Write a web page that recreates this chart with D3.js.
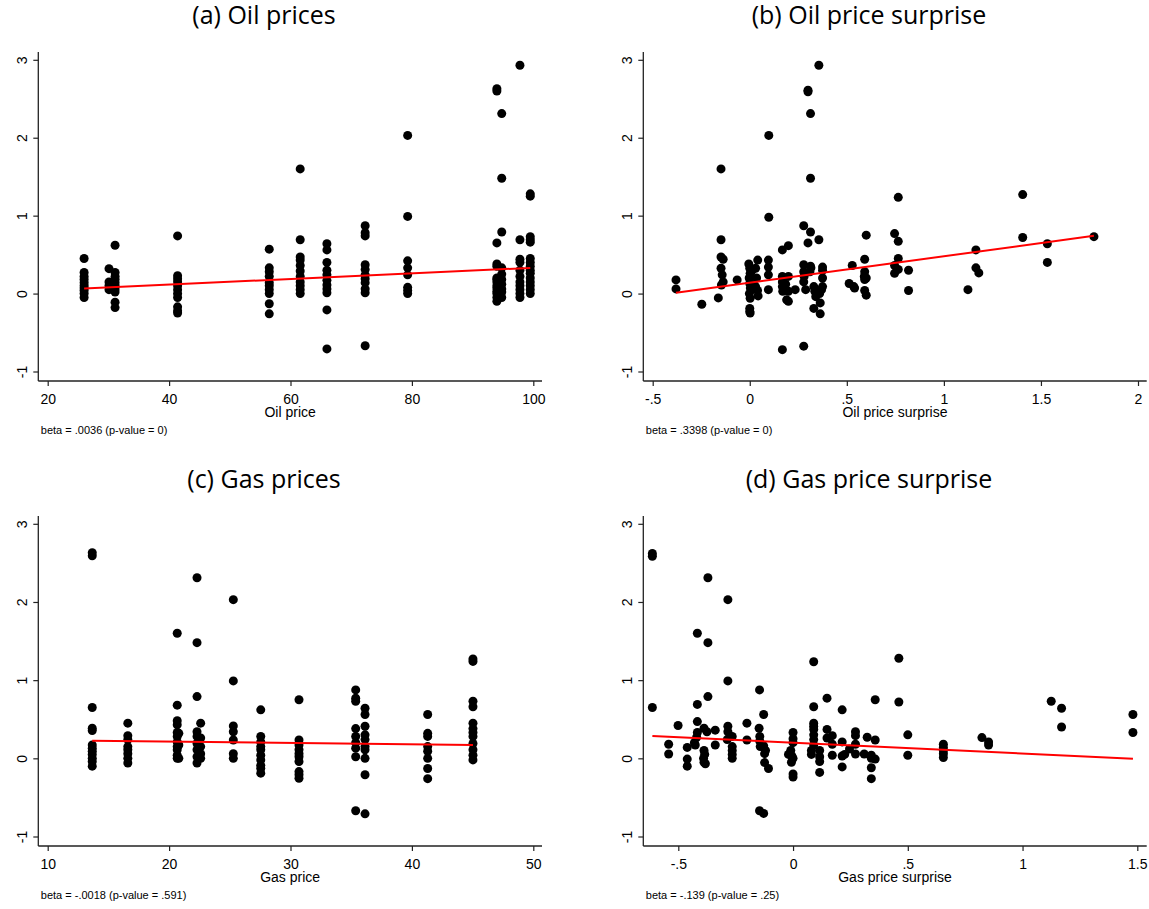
<!DOCTYPE html>
<html>
<head>
<meta charset="utf-8">
<script src="https://cdn.jsdelivr.net/npm/d3@7"></script>
<style>
  body { margin: 0; background: #fff; }
  svg { display: block; }
  .ptitle { font-family: "Open Sans", sans-serif; font-size: 25px; fill: #000; }
  .tick text, .ylab { font-family: "Liberation Sans", Arial, sans-serif; font-size: 14px; fill: #000; }
  .xtitle { font-family: "Liberation Sans", Arial, sans-serif; font-size: 14px; fill: #000; }
  .note { font-family: "Liberation Sans", Arial, sans-serif; font-size: 11px; fill: #000; }
</style>
</head>
<body>
<svg id="canvas" width="1149" height="909"></svg>
<script>
// ---- data ----

// (a) oil price levels, each with the returns observed at that price
var oilPriceLevels = [26, 30.1, 31.1, 41.4, 56.5, 61.6, 66.0, 72.3, 79.3, 94.0, 94.8, 97.8, 99.5];
var oilPriceReturns = [
  [0.45, 0.27, 0.22, 0.18, 0.14, 0.10, 0.07, 0.04, 0.00, -0.05],
  [0.32, 0.15, 0.10, 0.05],
  [0.62, 0.27, 0.22, 0.18, 0.14, 0.10, 0.06, 0.02, -0.11, -0.18],
  [0.74, 0.23, 0.19, 0.15, 0.10, 0.05, 0.00, -0.05, -0.17, -0.22, -0.25],
  [0.57, 0.33, 0.28, 0.22, 0.14, 0.10, 0.05, 0.00, -0.13, -0.26],
  [1.60, 0.69, 0.47, 0.43, 0.36, 0.29, 0.22, 0.15, 0.10, 0.05, 0.00],
  [0.64, 0.56, 0.40, 0.30, 0.24, 0.17, 0.11, 0.06, 0.01, -0.21, -0.71],
  [0.87, 0.78, 0.74, 0.37, 0.31, 0.24, 0.19, 0.14, 0.06, 0.01, -0.67],
  [2.03, 0.99, 0.42, 0.33, 0.24, 0.08, 0.04, 0.00],
  [2.63, 2.60, 0.65, 0.38, 0.35, 0.20, 0.18, 0.15, 0.10, 0.07, 0.03, 0.00, -0.05, -0.10],
  [2.31, 1.48, 0.79, 0.33, 0.25, 0.18, 0.12, 0.06, 0.02, -0.05],
  [2.93, 0.69, 0.44, 0.40, 0.30, 0.22, 0.15, 0.10, 0.05, 0.00, -0.05],
  [1.28, 1.25, 0.73, 0.69, 0.66, 0.45, 0.40, 0.35, 0.30, 0.26, 0.20, 0.15, 0.10, 0.05, 0.00]
];

// (b) oil price surprise vs return
var oilSurprisePoints = [
  [-0.38, 0.175], [-0.38, 0.06], [-0.247, -0.137], [-0.162, -0.056], [-0.148, 1.60], [-0.148, 0.69],
  [-0.148, 0.47], [-0.137, 0.44], [-0.148, 0.325], [-0.142, 0.24], [-0.137, 0.15], [-0.146, 0.11], [-0.065, 0.175],
  [-0.005, 0.38], [0, 0.325], [0.002, 0.26], [-0.003, 0.2], [0, 0.13], [0.003, 0.07], [-0.002, 0.0],
  [0.002, -0.06], [0, -0.19], [0, -0.23], [0.002, -0.25], [0.012, 0.3], [0.015, 0.1], [0.01, 0.05],
  [0.03, 0.325], [0.041, 0.43], [0.035, 0.2], [0.03, 0.09], [0.043, -0.03], [0.04, 0.04],
  [0.096, 0.43], [0.096, 0.34], [0.096, 0.24], [0.096, 0.05], [0.098, 2.03], [0.098, 0.98],
  [0.168, 0.56], [0.168, -0.72], [0.168, 0.22], [0.168, 0.15], [0.168, 0.09], [0.17, 0.03],
  [0.199, 0.615], [0.199, 0.22], [0.199, -0.1], [0.199, 0.03], [0.19, -0.08], [0.185, 0.12], [0.234, 0.05],
  [0.278, 0.87], [0.278, 0.37], [0.278, 0.28], [0.278, 0.15], [0.278, -0.675], [0.28, 0.22],
  [0.3, 2.61], [0.3, 2.59], [0.3, 0.65], [0.313, 2.31], [0.313, 1.48], [0.313, 0.79], [0.313, 0.35],
  [0.31, 0.28], [0.288, 0.05], [0.315, 0.33], [0.356, 2.93], [0.356, 0.69],
  [0.33, 0.09], [0.335, 0.03], [0.34, -0.04], [0.363, -0.12], [0.33, -0.19], [0.363, -0.26],
  [0.375, 0.34], [0.375, 0.3], [0.375, 0.2], [0.375, 0.09], [0.37, 0.05], [0.36, 0.0], [0.35, 0.02],
  [0.512, 0.13], [0.528, 0.36], [0.54, 0.07], [0.536, 0.09],
  [0.592, 0.44], [0.592, 0.28], [0.59, 0.22], [0.592, 0.18], [0.592, 0.04], [0.6, -0.02], [0.6, 0.75], [0.6, 0.2],
  [0.746, 0.77], [0.765, 1.235], [0.765, 0.67], [0.765, 0.45], [0.746, 0.36], [0.765, 0.31], [0.746, 0.26],
  [0.818, 0.30], [0.818, 0.04], [1.124, 0.05], [1.165, 0.56], [1.165, 0.33], [1.18, 0.265],
  [1.406, 1.27], [1.406, 0.72], [1.533, 0.64], [1.533, 0.40], [1.773, 0.73]
];

// (c) gas price levels, each with the returns observed at that price
var gasPriceLevels = [13.67, 16.6, 20.67, 20.8, 22.3, 22.6, 25.29, 27.55, 30.7, 35.37, 36.14, 41.3, 45.03];
var gasPriceReturns = [
  [2.63, 2.59, 0.65, 0.385, 0.355, 0.17, 0.13, 0.09, 0.05, 0.0, -0.04, -0.1],
  [0.45, 0.29, 0.24, 0.15, 0.11, 0.06, 0.0, -0.06],
  [1.6, 0.68, 0.48, 0.43, 0.33, 0.28, 0.21, 0.15, 0.11, 0.04, 0.0],
  [0.32, 0.17, 0.0],
  [2.31, 1.48, 0.79, 0.34, 0.28, 0.19, 0.11, 0.02, -0.06],
  [0.45, 0.26, 0.15, 0.06, 0.0],
  [2.03, 0.99, 0.415, 0.34, 0.235, 0.06, 0.0],
  [0.62, 0.28, 0.21, 0.15, 0.11, 0.04, -0.02, -0.09, -0.13, -0.19],
  [0.75, 0.235, 0.17, 0.11, 0.06, 0.02, -0.04, -0.17, -0.21, -0.255],
  [0.875, 0.77, 0.73, 0.38, 0.28, 0.2, 0.13, 0.02, -0.67],
  [0.64, 0.56, 0.41, 0.3, 0.24, 0.15, 0.11, 0.0, -0.21, -0.71],
  [0.56, 0.32, 0.28, 0.15, 0.09, 0.0, -0.13, -0.26],
  [1.27, 1.24, 0.73, 0.66, 0.45, 0.38, 0.33, 0.28, 0.19, 0.11, 0.04, -0.02]
];

// (d) gas price surprise vs return
var gasSurprisePoints = [
  [-0.613, 2.62], [-0.613, 2.585], [-0.613, 0.65], [-0.542, 0.18], [-0.542, 0.055], [-0.501, 0.42],
  [-0.461, 0.14], [-0.461, -0.01], [-0.461, -0.1],
  [-0.417, 1.60], [-0.417, 0.69], [-0.417, 0.47], [-0.417, 0.33], [-0.42, 0.27], [-0.426, 0.17], [-0.43, 0.2],
  [-0.371, 2.31], [-0.371, 1.48], [-0.371, 0.79],
  [-0.388, 0.385], [-0.375, 0.34], [-0.388, 0.1], [-0.385, 0.05], [-0.39, 0.0], [-0.388, -0.05], [-0.382, -0.07],
  [-0.339, 0.36], [-0.339, 0.17],
  [-0.284, 2.03], [-0.284, 0.99], [-0.284, 0.41], [-0.284, 0.34], [-0.287, 0.24],
  [-0.265, 0.28], [-0.265, 0.15], [-0.265, 0.1], [-0.265, 0.05], [-0.265, 0.0],
  [-0.201, 0.45], [-0.201, 0.235],
  [-0.146, 0.875], [-0.148, 0.385], [-0.145, 0.28], [-0.145, 0.22], [-0.143, 0.15],
  [-0.128, 0.56], [-0.128, 0.16], [-0.124, 0.06], [-0.124, -0.055], [-0.107, -0.13], [-0.12, 0.1],
  [-0.146, -0.67], [-0.128, -0.705],
  [0, 0.33], [0, 0.25], [0, 0.2], [-0.01, 0.1], [-0.02, 0.05], [0, 0.0], [-0.007, -0.05], [0, -0.2], [0, -0.24], [-0.005, 0.03],
  [0.09, 1.235], [0.09, 0.66], [0.09, 0.45], [0.09, 0.41], [0.09, 0.37], [0.09, 0.3], [0.09, 0.24], [0.09, 0.17], [0.08, 0.1], [0.08, 0.05],
  [0.116, 0.1], [0.116, 0.02], [0.116, -0.04], [0.116, -0.18],
  [0.148, 0.77], [0.148, 0.37], [0.148, 0.26], [0.171, 0.29], [0.171, 0.18], [0.171, 0.04],
  [0.214, 0.62], [0.214, 0.21], [0.214, 0.03], [0.214, -0.11], [0.225, 0.05], [0.246, 0.12],
  [0.272, 0.34], [0.272, 0.29], [0.272, 0.18], [0.272, 0.055], [0.31, 0.055], [0.323, 0.27],
  [0.341, 0.04], [0.341, 0.0], [0.341, -0.12], [0.341, -0.26], [0.358, 0.75], [0.358, 0.235], [0.358, -0.01],
  [0.461, 1.28], [0.461, 0.72], [0.5, 0.30], [0.5, 0.04],
  [0.655, 0.18], [0.655, 0.14], [0.655, 0.1], [0.655, 0.06], [0.655, 0.01],
  [0.823, 0.265], [0.852, 0.21], [0.852, 0.17],
  [1.125, 0.73], [1.17, 0.64], [1.17, 0.40], [1.481, 0.56], [1.481, 0.33]
];

// fitted lines: [intercept, beta]
var fitOilPrice = [-0.029, 0.0036];
var fitOilSurprise = [0.139, 0.3398];
var fitGasPrice = [0.25, -0.0018];
var fitGasSurprise = [0.2, -0.139];

// tick labels
var yTicks = [-1, 0, 1, 2, 3];
var oilPriceTicks = [20, 40, 60, 80, 100];
var oilSurpriseTicks = [-0.5, 0, 0.5, 1, 1.5, 2];
var gasPriceTicks = [10, 20, 30, 40, 50];
var gasSurpriseTicks = [-0.5, 0, 0.5, 1, 1.5];

function flatten(levels, returns) {
  var out = [];
  levels.forEach(function(x, i) {
    returns[i].forEach(function(y) { out.push([x, y]); });
  });
  return out;
}

// stata style numbers: .5, -.5
function stataFmt(v) {
  var s = String(v);
  return s.replace(/^0\./, ".").replace(/^-0\./, "-.");
}

var panels = [
  {title: "(a) Oil prices", xTitle: "Oil price", note: "beta = .0036 (p-value = 0)",
   points: flatten(oilPriceLevels, oilPriceReturns), fit: fitOilPrice, ticks: oilPriceTicks,
   col: 0, row: 0},
  {title: "(b) Oil price surprise", xTitle: "Oil price surprise", note: "beta = .3398 (p-value = 0)",
   points: oilSurprisePoints, fit: fitOilSurprise, ticks: oilSurpriseTicks,
   col: 1, row: 0},
  {title: "(c) Gas prices", xTitle: "Gas price", note: "beta = -.0018 (p-value = .591)",
   points: flatten(gasPriceLevels, gasPriceReturns), fit: fitGasPrice, ticks: gasPriceTicks,
   col: 0, row: 1},
  {title: "(d) Gas price surprise", xTitle: "Gas price surprise", note: "beta = -.139 (p-value = .25)",
   points: gasSurprisePoints, fit: fitGasSurprise, ticks: gasSurpriseTicks,
   col: 1, row: 1}
];

// pixel spots of the first and last x tick in each panel
var xTickPx = [[47.7, 533.3], [652.7, 1138], [47.7, 533.3], [678.3, 1137.3]];

var svg = d3.select("#canvas");

panels.forEach(function(p, i) {
  var left = p.col === 0 ? 38.3 : 643.3;
  var right = p.col === 0 ? 542 : 1146.7;
  var top = p.row === 0 ? 52 : 516;
  var bottom = p.row === 0 ? 381 : 846;
  var titleX = p.col === 0 ? 264 : 869;

  var x = d3.scaleLinear()
    .domain([p.ticks[0], p.ticks[p.ticks.length - 1]])
    .range(xTickPx[i]);
  var y = d3.scaleLinear()
    .domain([-1, 3])
    .range([bottom - 9.5, top + 7.8]);

  var g = svg.append("g").attr("class", "panel");

  g.append("text")
    .attr("class", "ptitle")
    .attr("x", titleX)
    .attr("y", top - 28)
    .attr("text-anchor", "middle")
    .text(p.title);

  // x axis
  var xa = g.append("g")
    .attr("transform", "translate(0," + bottom + ")")
    .call(d3.axisBottom(x).tickValues(p.ticks).tickFormat(stataFmt).tickSize(5).tickSizeOuter(0));
  xa.select(".domain").remove();
  xa.selectAll(".tick line").attr("stroke", "#222").attr("stroke-width", 1.2);
  xa.selectAll(".tick text").attr("dy", null).attr("y", 22.5);
  xa.append("line")
    .attr("x1", left).attr("x2", right)
    .attr("stroke", "#222").attr("stroke-width", 1.3);

  // y axis, labels turned as in stata
  var ya = g.append("g")
    .attr("transform", "translate(" + left + ",0)")
    .call(d3.axisLeft(y).tickValues(yTicks).tickFormat(function(d){ return String(d); })
      .tickSize(5).tickSizeOuter(0));
  ya.select(".domain").remove();
  ya.selectAll(".tick line").attr("stroke", "#222").attr("stroke-width", 1.2);
  ya.selectAll(".tick text")
    .attr("x", null).attr("dy", null)
    .attr("text-anchor", "middle")
    .attr("transform", "translate(-11.5,0) rotate(-90)");
  ya.append("line")
    .attr("y1", top).attr("y2", bottom)
    .attr("stroke", "#222").attr("stroke-width", 1.3);

  g.append("text")
    .attr("class", "xtitle")
    .attr("x", (left + right) / 2)
    .attr("y", bottom + 36)
    .attr("text-anchor", "middle")
    .text(p.xTitle);

  g.append("text")
    .attr("class", "note")
    .attr("x", left + 2.5)
    .attr("y", bottom + 53)
    .text(p.note);

  g.selectAll("circle")
    .data(p.points)
    .enter()
    .append("circle")
      .attr("cx", function(d){ return x(d[0]); })
      .attr("cy", function(d){ return y(d[1]); })
      .attr("r", 4.5)
      .style("fill", "#000");

  var ext = d3.extent(p.points, function(d){ return d[0]; });
  var line = d3.line()
    .x(function(d){ return x(d); })
    .y(function(d){ return y(p.fit[0] + p.fit[1] * d); });
  g.append("path")
    .datum(ext)
    .attr("d", line)
    .attr("fill", "none")
    .attr("stroke", "#f00")
    .attr("stroke-width", 2);
});
</script>
</body>
</html>
